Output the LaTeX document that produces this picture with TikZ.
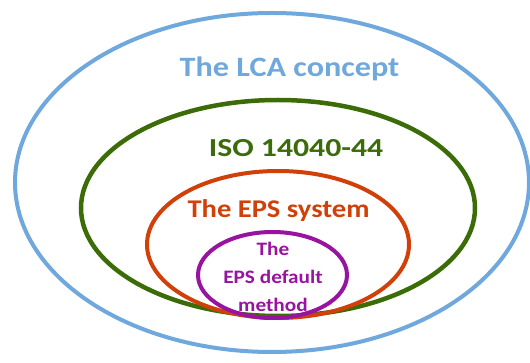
\documentclass[tikz,border=0pt]{standalone}
\usepackage{fontspec}
\setmainfont{Carlito}
\definecolor{lcablue}{RGB}{111,168,220}
\definecolor{isogreen}{RGB}{60,108,8}
\definecolor{epsred}{RGB}{210,64,10}
\definecolor{epspurple}{RGB}{152,20,160}
\tikzset{
  ring/.style={line width=#1},
  label text/.style={font=\bfseries\fontsize{#1}{#1}\selectfont, inner sep=0pt, anchor=base}
}
\newcommand{\wide}[2]{\scalebox{#1}[1]{#2}}
\begin{document}
\begin{tikzpicture}[x=1pt,y=-1pt]
    \useasboundingbox[fill=white] (0,0) rectangle (530,363);
    \draw[ring=4pt,lcablue]   (272,182.5) ellipse [x radius=257, y radius=169.5];
    \draw[ring=4.5pt,isogreen] (278,208) ellipse [x radius=197, y radius=108];
    \draw[ring=4pt,epsred]    (278,244.5) ellipse [x radius=131, y radius=73.5];
    \draw[ring=4pt,epspurple] (272.5,275) ellipse [x radius=74.5, y radius=43];
    \node[label text=28,text=lcablue] (lca) at (289.5,77) {\wide{1.15}{The LCA concept}};
    \node[label text=26,text=isogreen] (iso) at (296,156.7) {\wide{1.22}{ISO 14040-44}};
    \node[label text=25.5,text=epsred] (eps) at (278.5,217.3) {\wide{1.12}{The EPS system}};
    \node[font=\bfseries\fontsize{19}{28}\selectfont, text=epspurple, inner sep=0pt, align=center]
      (method) at (273,276.5) {\wide{1.12}{The}\\\wide{1.12}{EPS default}\\\wide{1.12}{method}};
  \end{tikzpicture}
\end{document}
